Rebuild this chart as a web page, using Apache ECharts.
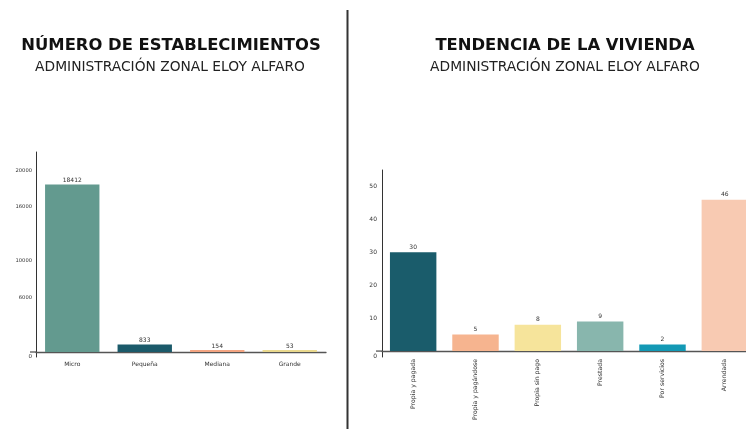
<!DOCTYPE html>
<html>
<head>
<meta charset="utf-8">
<script src="https://cdn.jsdelivr.net/npm/echarts@6/dist/echarts.min.js"></script>
<style>
html,body{margin:0;padding:0;background:#fff;}
#c{width:746px;height:429px;}
</style>
</head>
<body>
<div id="c"></div>
<script>
// ---- data ----
const estCategories = ['Micro', 'Pequeña', 'Mediana', 'Grande'];
const estValues = [18412, 833, 154, 53];
const estTicks = [0, 6000, 10000, 16000, 20000];

const vivCategories = ['Propia y pagada', 'Propia y pagándose', 'Propia sin pago', 'Prestada', 'Por servicios', 'Arrendada'];
const vivValues = [30, 5, 8, 9, 2, 46];
const vivTicks = [0, 10, 20, 30, 40, 50];

// ---- styles ----
const estColors = ['#639a8f', '#1b5a6a', '#f4a582', '#ead98e'];
const vivColors = ['#1a5c6b', '#f6b48f', '#f6e49b', '#88b6ad', '#1399b5', '#f8cab2'];
const FONT = 'DejaVu Sans';

const chart = echarts.init(document.getElementById('c'), null, {renderer: 'canvas'});

function yLabel(v) { return v === 0 ? '{z|0}' : String(v); }
function rich(sz) { return { z: { fontSize: sz, color: '#333', fontFamily: FONT, padding: [10, 0, 0, 0] } }; }

const option = {
  animation: false,
  backgroundColor: '#fff',
  title: [
    { text: 'NÚMERO DE ESTABLECIMIENTOS', left: 166, top: 33, textAlign: 'center',
      textStyle: { fontFamily: FONT, fontSize: 16.4, fontWeight: 'bold', color: '#111' } },
    { text: 'ADMINISTRACIÓN ZONAL ELOY ALFARO', left: 165, top: 55, textAlign: 'center',
      textStyle: { fontFamily: FONT, fontSize: 13.8, fontWeight: 'normal', color: '#222' } },
    { text: 'TENDENCIA DE LA VIVIENDA', left: 560, top: 33, textAlign: 'center',
      textStyle: { fontFamily: FONT, fontSize: 16.4, fontWeight: 'bold', color: '#111' } },
    { text: 'ADMINISTRACIÓN ZONAL ELOY ALFARO', left: 560, top: 55, textAlign: 'center',
      textStyle: { fontFamily: FONT, fontSize: 13.8, fontWeight: 'normal', color: '#222' } }
  ],
  grid: [
    { left: 36, top: 152, width: 290, bottom: 72, outerBoundsMode: 'none', containLabel: false },
    { left: 382, top: 170, right: -10, bottom: 72, outerBoundsMode: 'none', containLabel: false }
  ],
  xAxis: [
    { type: 'category', gridIndex: 0, data: estCategories,
      axisLine: { onZero: true, lineStyle: { color: '#555', width: 1.3 } },
      axisTick: { show: false },
      axisLabel: { fontFamily: FONT, fontSize: 6, color: '#333', margin: 4 } },
    { type: 'category', gridIndex: 1, data: vivCategories,
      axisLine: { onZero: true, lineStyle: { color: '#555', width: 1.3 } },
      axisTick: { show: false },
      axisLabel: { fontFamily: FONT, fontSize: 6.2, color: '#333', margin: 2, rotate: 90 } }
  ],
  yAxis: [
    { type: 'value', gridIndex: 0, min: -550, max: 22000,
      splitLine: { show: false },
      axisLine: { show: true, lineStyle: { color: '#333', width: 1 } },
      axisTick: { show: false },
      axisLabel: { customValues: estTicks, formatter: yLabel, rich: rich(5.5),
        fontFamily: FONT, fontSize: 5.2, color: '#333', margin: 4 } },
    { type: 'value', gridIndex: 1, min: -1.8, max: 55,
      splitLine: { show: false },
      axisLine: { show: true, lineStyle: { color: '#333', width: 1 } },
      axisTick: { show: false },
      axisLabel: { customValues: vivTicks, formatter: yLabel, rich: rich(6),
        fontFamily: FONT, fontSize: 6, color: '#333', margin: 5 } }
  ],
  series: [
    { type: 'bar', xAxisIndex: 0, yAxisIndex: 0, barCategoryGap: '25%', barMinHeight: 2,
      data: estValues.map((v, i) => ({ value: v, itemStyle: { color: estColors[i] } })),
      label: { show: true, position: 'top', distance: 1, fontFamily: FONT, fontSize: 6, color: '#333' } },
    { type: 'bar', xAxisIndex: 1, yAxisIndex: 1, barCategoryGap: '25.5%',
      data: vivValues.map((v, i) => ({ value: v, itemStyle: { color: vivColors[i] } })),
      label: { show: true, position: 'top', distance: 2, fontFamily: FONT, fontSize: 6, color: '#333' } }
  ]
};
chart.setOption(option);

// decorations: divider and small axis overhangs
const y0a = chart.convertToPixel({ yAxisIndex: 0 }, 0);
const y0b = chart.convertToPixel({ yAxisIndex: 1 }, 0);
chart.setOption({
  graphic: [
    { type: 'line', shape: { x1: 347.5, y1: 10, x2: 347.5, y2: 429 },
      style: { stroke: '#333', lineWidth: 2 } },
    { type: 'line', shape: { x1: 30, y1: y0a, x2: 36, y2: y0a },
      style: { stroke: '#555', lineWidth: 1.3 } },
    { type: 'line', shape: { x1: 376, y1: y0b, x2: 382, y2: y0b },
      style: { stroke: '#555', lineWidth: 1.3 } }
  ]
});
</script>
</body>
</html>
